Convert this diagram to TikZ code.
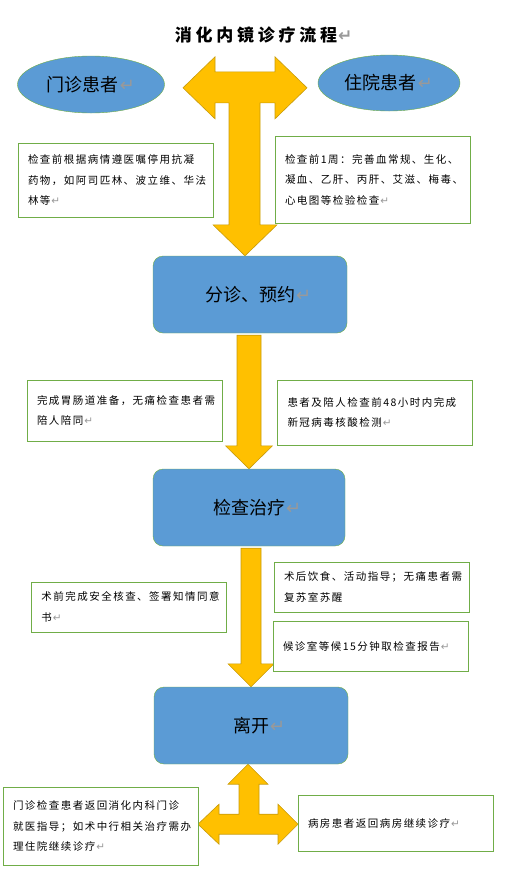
\documentclass[tikz,border=0pt]{standalone}
\usepackage{fontspec}
\setmainfont{Noto Sans CJK SC}
\newfontfamily\notefont{Noto Sans CJK SC}[LetterSpace=14]
\newfontfamily\titlefont{Noto Sans CJK SC}[LetterSpace=22]
\newfontfamily\markfont{DejaVu Sans}
\usepackage{xcolor}
\usetikzlibrary{calc,backgrounds,shapes.geometric}
\definecolor{nodeblue}{HTML}{5B9BD5}
\definecolor{edgegreen}{HTML}{70AD47}
\definecolor{arrowgold}{HTML}{FFC000}
\definecolor{arrowedge}{HTML}{C89B0A}
\newcommand{\pmark}{{\markfont\color{black!40}\kern1pt↵}}
\newcommand{\stemarrow}[4]{%
  \path[blockarrow] let \p1=(#1.south), \p2=(#2.north) in
    (\x2-#3,\y1-2pt) -- (\x2+#3,\y1-2pt) -- (\x2+#3,\y2+23pt) -- (\x2+#4,\y2+23pt)
    -- (\x2,\y2) -- (\x2-#4,\y2+23pt) -- (\x2-#3,\y2+23pt) -- cycle;}
\tikzset{
  titletext/.style={font=\titlefont\bfseries\fontsize{17}{20}\selectfont},
  patient/.style={ellipse,draw=edgegreen,fill=nodeblue,inner sep=0pt,font=\fontsize{18}{20}\selectfont},
  stage/.style={draw=edgegreen,fill=nodeblue,rounded corners=10pt,minimum height=77pt,font=\fontsize{18}{20}\selectfont},
  note/.style={draw=edgegreen,fill=white,align=left,text width=175pt,inner xsep=10pt,font=\notefont\fontsize{10.5}{20.5}\selectfont},
  blockarrow/.style={fill=arrowgold,draw=arrowedge,line width=0.6pt,line join=miter},
}

\begin{document}
\begin{tikzpicture}[x=1pt,y=-1pt]
  \useasboundingbox (0,0) rectangle (506,887);
  \node[titletext] (title) at (256,35) {消化内镜诊疗流程\rlap{\pmark}};
  \node[patient,minimum width=147pt,minimum height=57pt] (outpat) at (91,84.5) {门诊患者\pmark};
  \node[patient,minimum width=142pt,minimum height=56pt] (inpat) at (389,83) {住院患者\pmark};
  \node[note,minimum height=74pt] (drugnote) at (115.5,180) {检查前根据病情遵医嘱停用抗凝\\药物，如阿司匹林、波立维、华法\\林等\pmark};
  \node[note,minimum height=87pt] (labnote) at (372.5,179.5) {检查前1周：完善血常规、生化、\\凝血、乙肝、丙肝、艾滋、梅毒、\\心电图等检验检查\pmark};
  \node[stage,minimum width=194pt] (triage) at (250,294.5) {分诊、预约\rlap{\pmark}};
  \node[note,minimum height=61pt] (bowelnote) at (124.5,410.5) {完成胃肠道准备，无痛检查患者需\\陪人陪同\pmark};
  \node[note,minimum height=65pt] (covidnote) at (375,412.5) {患者及陪人检查前48小时内完成\\新冠病毒核酸检测\pmark};
  \node[stage,minimum width=192pt] (exam) at (249,507.5) {检查治疗\rlap{\pmark}};
  \node[note,minimum height=50pt] (consentnote) at (129,607) {术前完成安全核查、签署知情同意\\书\pmark};
  \node[note,minimum height=50pt] (afternote) at (371.5,587) {术后饮食、活动指导；无痛患者需\\复苏室苏醒};
  \node[note,minimum height=50pt] (reportnote) at (370.5,646) {候诊室等候15分钟取检查报告\pmark};
  \node[stage,minimum width=194pt] (leave) at (251,725.5) {离开\rlap{\pmark}};
  \node[note,minimum height=78pt] (outnote) at (100.5,826) {门诊检查患者返回消化内科门诊\\就医指导；如术中行相关治疗需办\\理住院继续诊疗\pmark};
  \node[note,minimum height=56pt] (wardnote) at (395.5,823) {病房患者返回病房继续诊疗\pmark};
  \begin{scope}[on background layer]
    \path[blockarrow,shift={(triage.north)}] (-67,-168) -- (-35,-199) -- (-35,-184) -- (25,-184)
      -- (25,-199) -- (57,-168) -- (25,-137) -- (25,-153) -- (10,-153) -- (10,-31) -- (27,-31)
      -- (-5,0) -- (-37,-31) -- (-21,-31) -- (-21,-153) -- (-35,-153) -- (-35,-137) -- cycle;
    \stemarrow{triage}{exam}{12pt}{23.5pt}
    \stemarrow{exam}{leave}{10pt}{23pt}
    \path[blockarrow,shift={(leave.south)}] (-3,0) -- (17,20) -- (8,20) -- (8,50) -- (27,50)
      -- (27,40) -- (47,60) -- (27,80) -- (27,70) -- (-32,70) -- (-32,80) -- (-53,60)
      -- (-32,40) -- (-32,50) -- (-12,50) -- (-12,20) -- (-23,20) -- cycle;
  \end{scope}
\end{tikzpicture}
\end{document}
